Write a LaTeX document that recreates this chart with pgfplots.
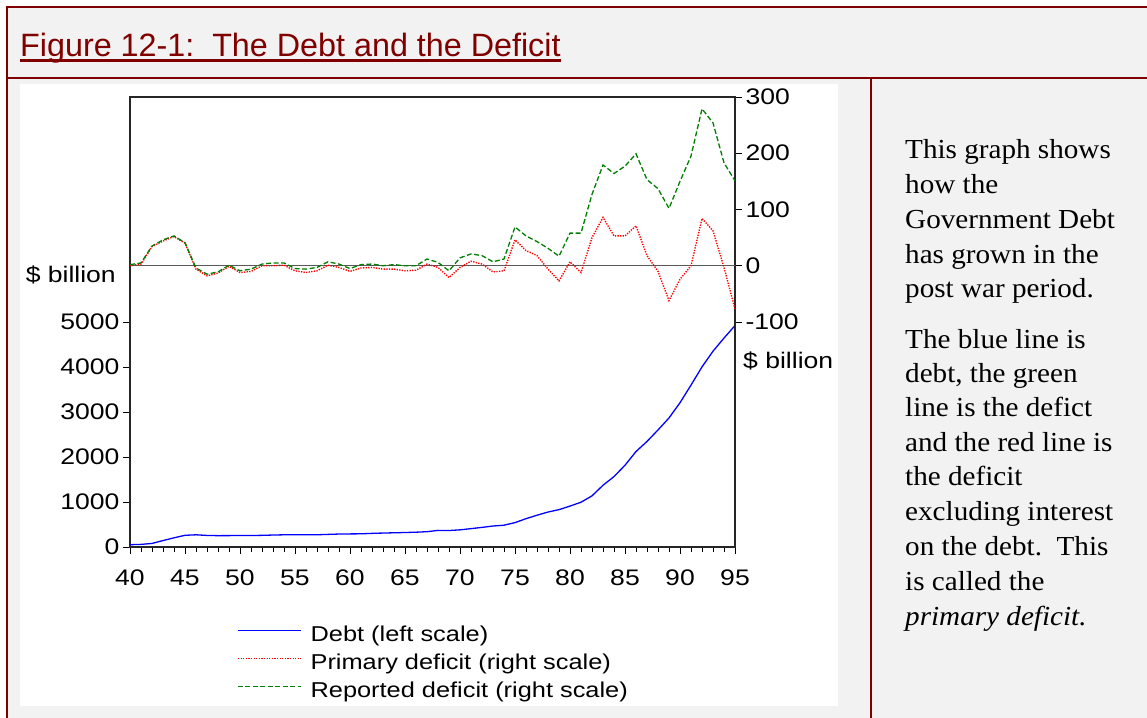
\documentclass[border=0pt]{standalone}
\usepackage{fontspec}
\setmainfont{Liberation Sans}
\newfontfamily\chartfont[FakeStretch=1.18]{Liberation Sans}
\newfontfamily\notefont[FakeStretch=1.06]{Liberation Serif}
\usepackage{pgfplots}
\pgfplotsset{compat=1.18}

\definecolor{frame}{RGB}{128,0,0}
\definecolor{panel}{RGB}{242,242,242}
\definecolor{dgreen}{RGB}{0,128,0}

\newcommand\chartsize{\chartfont\fontsize{22.5}{26}\selectfont}
\newcommand\legendsize{\chartfont\fontsize{21.5}{25}\selectfont}
\newcommand\notesize{\notefont\fontsize{27.5}{33}\selectfont}

\pgfplotsset{
  chart/.style={
    scale only axis, width=605pt, height=450pt,
    at={(130pt,170pt)}, anchor=south west,
    xmin=40, xmax=95,
    tick align=outside,
    ticklabel style={font=\chartsize},
    scaled y ticks=false,
    /pgf/number format/assume math mode=true,
    /pgf/number format/1000 sep={},
    axis line style={line width=1.2pt, black!85},
    major tick length=7pt, minor tick length=5pt,
    every tick/.style={black, line width=0.9pt},
  }
}

\begin{document}
\begin{tikzpicture}[x=1pt,y=1pt]
\useasboundingbox (0,0) rectangle (1147,717);
\clip (0,0) rectangle (1147,717);
% slide background
\fill[white] (0,0) rectangle (1147,717);
\fill[panel] (7,-5) rectangle (1160,710);
\fill[white] (20,11) rectangle (838,633);
\draw[frame, line width=2.4pt] (7,-5) -- (7,710) -- (1160,710);
\draw[frame, line width=2.4pt] (7,639) -- (1160,639);
\draw[frame, line width=2.4pt] (871,639) -- (871,-5);

% title
\node[anchor=base west, inner sep=0pt, text=frame, font=\fontsize{32.3}{38}\selectfont] (t) at (20,660)
  {Figure 12-1:\ \ The Debt and the Deficit};
\draw[frame, line width=2.2pt] ([yshift=-3.5pt]t.base west) -- ([yshift=-3.5pt]t.base east);

% side note
\begin{scope}[every node/.style={anchor=base west, inner sep=0pt, font=\notesize}]
\node at (905,558) {This graph shows};
\node at (905,523) {how the};
\node at (905,488) {Government Debt};
\node at (905,453) {has grown in the};
\node at (905,419) {post war period.};
\node at (905,368) {The blue line is};
\node at (905,334) {debt, the green};
\node at (905,300) {line is the defict};
\node at (905,265) {and the red line is};
\node at (905,231) {the deficit};
\node at (905,196) {excluding interest};
\node at (905,161) {on the debt.\ \ This};
\node at (905,126) {is called the};
\node at (905,92) {\itshape primary deficit.};
\end{scope}

% left scale: debt
\begin{axis}[chart,
    ymin=0, ymax=10000,
    ytick={0,1000,...,5000},
    xtick={40,45,...,95},
    minor x tick num=4,
    xtick pos=left, ytick pos=left,
    xticklabel style={yshift=-12pt},
]
\addplot[blue, line width=1.3pt] coordinates {
(40,51)(41,58)(42,79)(43,143)(44,204)(45,260)(46,271)(47,257)(48,252)(49,253)
(50,257)(51,255)(52,259)(53,266)(54,271)(55,274)(56,273)(57,272)(58,280)(59,288)
(60,291)(61,293)(62,303)(63,310)(64,316)(65,322)(66,329)(67,340)(68,369)(69,366)
(70,381)(71,408)(72,436)(73,466)(74,484)(75,542)(76,629)(77,706)(78,777)(79,830)
(80,909)(81,995)(82,1137)(83,1372)(84,1565)(85,1817)(86,2121)(87,2346)(88,2601)(89,2868)
(90,3206)(91,3598)(92,4002)(93,4351)(94,4643)(95,4921)
};
\end{axis}

% right scale: deficits
\begin{axis}[chart,
    ymin=-500, ymax=300,
    ytick={-100,0,...,300},
    axis x line=none, axis y line*=right,
    legend image code/.code={\draw[#1] (0pt,5pt) -- (63pt,5pt); \path (71pt,5pt);},
    legend cell align=left,
    legend style={at={(axis description cs:0.177,-0.169)}, anchor=north west,
      draw=none, fill=none, inner sep=0pt, font=\legendsize, row sep=3pt,
      nodes={inner sep=1pt, text height=17pt, text depth=6pt}},
]
\addlegendimage{blue, line width=1.3pt}
\addlegendentry{Debt (left scale)}
\addlegendimage{red, line width=1.3pt, dash pattern=on 1.3pt off 1.3pt}
\addlegendentry{Primary deficit (right scale)}
\addlegendimage{dgreen, line width=1.3pt, dash pattern=on 5pt off 2.5pt}
\addlegendentry{Reported deficit (right scale)}
\addplot[black!65, line width=1pt, forget plot] coordinates {(40,0)(95,0)};
\addplot[red, line width=1.4pt, dash pattern=on 1.3pt off 1.3pt, forget plot] coordinates {
(40,0)(41,3)(42,34)(43,44)(44,52)(45,40)(46,-6)(47,-18)(48,-13)(49,-1)
(50,-12)(51,-10)(52,0)(53,0)(54,1)(55,-9)(56,-12)(57,-9)(58,1)(59,-3)
(60,-10)(61,-4)(62,-3)(63,-6)(64,-6)(65,-9)(66,-8)(67,3)(68,-3)(69,-21)
(70,-3)(71,8)(72,3)(73,-11)(74,-9)(75,46)(76,27)(77,18)(78,-6)(79,-27)
(80,7)(81,-12)(82,50)(83,86)(84,53)(85,53)(86,71)(87,18)(88,-10)(89,-62)
(90,-24)(91,0)(92,84)(93,62)(94,-3)(95,-77)
};
\addplot[dgreen, line width=1.3pt, dash pattern=on 5pt off 2.5pt, forget plot] coordinates {
(40,2)(41,5)(42,35)(43,46)(44,53)(45,41)(46,-4)(47,-15)(48,-11)(49,1)
(50,-9)(51,-6)(52,3)(53,5)(54,5)(55,-5)(56,-6)(57,-3)(58,7)(59,3)
(60,-5)(61,2)(62,3)(63,0)(64,2)(65,0)(66,0)(67,12)(68,6)(69,-9)
(70,14)(71,21)(72,18)(73,7)(74,12)(75,69)(76,53)(77,43)(78,31)(79,17)
(80,58)(81,58)(82,127)(83,179)(84,164)(85,177)(86,199)(87,153)(88,137)(89,102)
(90,150)(91,195)(92,279)(93,254)(94,183)(95,151)
};
\end{axis}

% scale units
\node[anchor=base east, inner sep=0pt, font=\chartsize] at (116,434) {\$ billion};
\node[anchor=base west, inner sep=0pt, font=\chartsize] at (743,348) {\$ billion};
\end{tikzpicture}
\end{document}
